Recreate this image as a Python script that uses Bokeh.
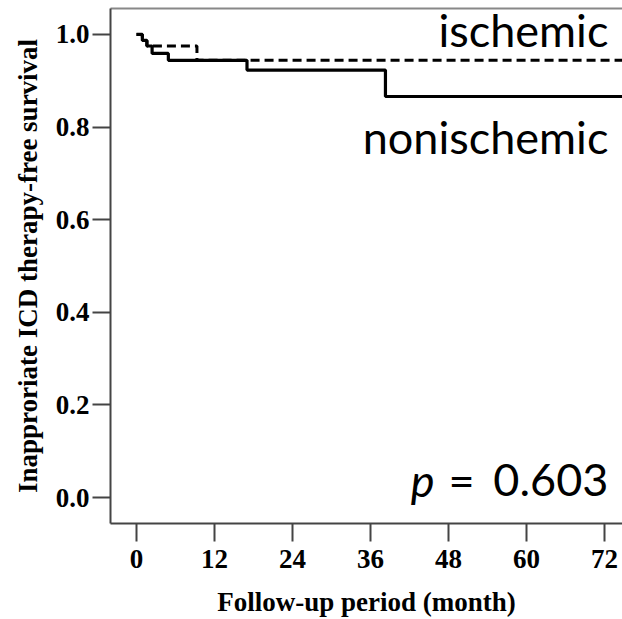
from bokeh.plotting import figure
from bokeh.models import Range1d, FixedTicker, NumeralTickFormatter, LinearAxis
from bokeh.core.properties import value
from bokeh.embed import file_html
from bokeh.resources import INLINE

# Kaplan-Meier step data (month of event, survival after event)
months_nonischemic = [0, 0.9, 1.6, 2.4, 4.9, 17.0, 38.3]
surv_nonischemic = [1.0, 0.987, 0.975, 0.959, 0.944, 0.923, 0.866]
months_ischemic = [0, 0.9, 1.6, 9.3]
surv_ischemic = [1.0, 0.987, 0.975, 0.944]
followup_end = 75.0

x_ticks = [0, 12, 24, 36, 48, 60, 72]
y_ticks = [0.0, 0.2, 0.4, 0.6, 0.8, 1.0]
group_labels = ["ischemic", "nonischemic"]
p_value = "0.603"

p = figure(width=622, height=619, output_backend="svg", toolbar_location=None,
           x_range=Range1d(-4, 74.77), y_range=Range1d(-0.056, 1.056),
           min_border_left=110, min_border_right=0, min_border_top=8,
           min_border_bottom=94)
p.xgrid.visible = False
p.ygrid.visible = False
p.outline_line_color = None
p.background_fill_color = "white"
p.border_fill_color = "white"

serif = "Liberation Serif"
for ax in (p.xaxis[0], p.yaxis[0]):
    ax.axis_line_color = "#444444"
    ax.axis_line_width = 2
    ax.major_tick_line_color = "#444444"
    ax.major_tick_line_width = 2
    ax.major_tick_in = 0
    ax.major_tick_out = 18
    ax.minor_tick_line_color = None
    ax.major_label_text_font = serif
    ax.major_label_text_font_style = "bold"
    ax.major_label_text_font_size = "27px"
    ax.major_label_text_color = "black"
    ax.axis_label_text_font = serif
    ax.axis_label_text_font_style = "bold"
    ax.axis_label_text_font_size = "27px"
    ax.axis_label_text_color = "black"

p.xaxis.ticker = FixedTicker(ticks=x_ticks)
p.yaxis.ticker = FixedTicker(ticks=y_ticks)
p.yaxis.formatter = NumeralTickFormatter(format="0.0")
p.xaxis.axis_label = "Follow-up period (month)"
p.yaxis.axis_label = "Inapproriate ICD therapy-free survival"
p.xaxis.major_label_standoff = 8
p.yaxis.major_label_standoff = 3
p.xaxis.axis_label_standoff = 16
p.yaxis.axis_label_standoff = 10

# top frame line
top = LinearAxis(ticker=FixedTicker(ticks=[]), major_label_text_font_size="0px",
                 axis_line_color="#888888", axis_line_width=2,
                 major_tick_line_color=None, minor_tick_line_color=None)
p.add_layout(top, "above")

p.step(months_nonischemic + [followup_end], surv_nonischemic + [surv_nonischemic[-1]],
       mode="after", line_color="black", line_width=3.2)
p.step(months_ischemic + [followup_end], surv_ischemic + [surv_ischemic[-1]],
       mode="after", line_color="black", line_width=3, line_dash="9 5")

sans = value("Lato")
lift = -16
common = dict(text_font=sans, text_font_size="45px", text_baseline="alphabetic",
              text_color="black", y_offset=lift)
p.text(x=[72.6, 72.6], y=[0.976, 0.744], text=group_labels, text_align="right", **common)
# p-value annotation: italic "p", "=", and the number
p.text(x=[72.6], y=[0.004], text=[p_value], text_align="right", **common)
p.text(x=[50.0], y=[0.004], text=["="], text_align="center", **common)
p.text(x=[42.2], y=[0.004], text=["p"], text_align="left", text_font_style="italic", **common)

open("out.html", "w").write(file_html(p, INLINE))
